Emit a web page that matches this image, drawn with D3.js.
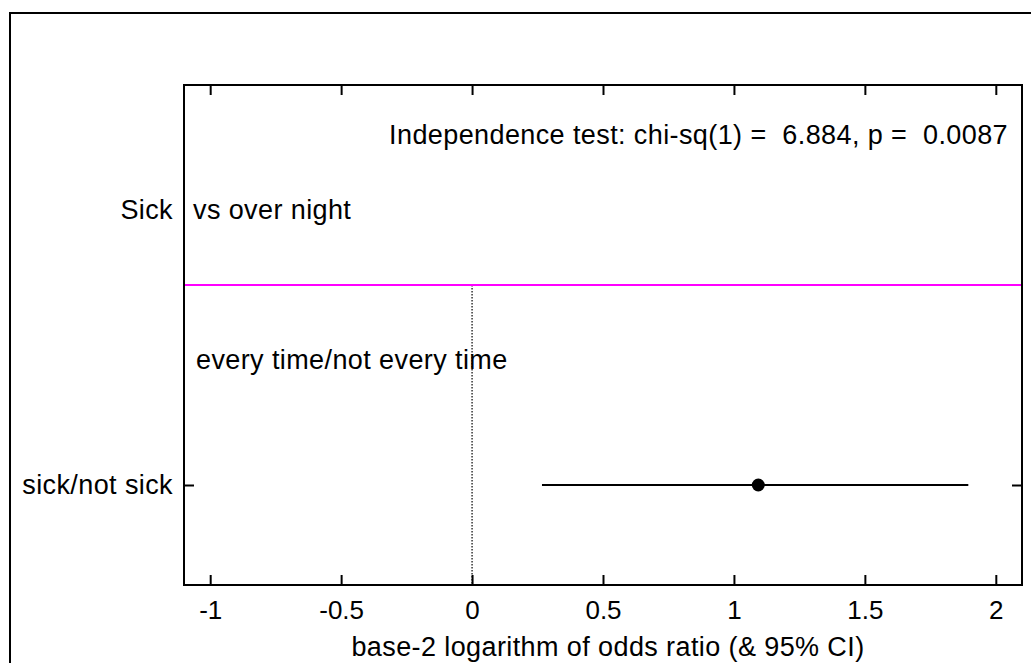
<!DOCTYPE html>
<html>
<head>
<meta charset="utf-8">
<script src="https://cdn.jsdelivr.net/npm/d3@7"></script>
<style>
  body { margin: 0; background: #fff; }
  svg text { font-family: "Liberation Sans", Arial, sans-serif; white-space: pre; }
</style>
</head>
<body>
<svg width="1031" height="663"></svg>
<script>
// data
var xTicks = [-1, -0.5, 0, 0.5, 1, 1.5, 2];
var rowLabels = ["sick/not sick"];
var rowPos = [0];
var estimates = [1.093];
var lower = [0.267];
var upper = [1.895];
var groupTitle = "Sick";
var groupSub = "vs over night";
var subLabel = "every time/not every time";
var testText = "Independence test: chi-sq(1) =  6.884, p =  0.0087";
var xTitle = "base-2 logarithm of odds ratio (& 95% CI)";

var svg = d3.select("svg"),
    margin = {top: 85, right: 9, bottom: 78, left: 184},
    width = +svg.attr("width") - margin.left - margin.right,
    height = +svg.attr("height") - margin.top - margin.bottom,
    g = svg.append("g").attr("transform", "translate(" + margin.left + "," + margin.top + ")");

// outer frame (runs off the right and bottom edge)
svg.append("rect")
    .attr("x", 10).attr("y", 13)
    .attr("width", 1060).attr("height", 700)
    .attr("fill", "none").attr("stroke", "#000").attr("stroke-width", 2);

var x = d3.scaleLinear().domain([-1.1, 2.1]).range([0, width]);
var y = d3.scaleLinear().domain([-0.8, 3.2]).range([height, 0]);

var fs = 27, ls = 0.4;

// dotted line at zero, below the group separator
g.append("line")
    .attr("x1", x(0)).attr("x2", x(0))
    .attr("y1", y(1.6)).attr("y2", height)
    .attr("stroke", "#000").attr("stroke-width", 1.2)
    .attr("stroke-dasharray", "1.5,1.5");

// group separator
g.append("line")
    .attr("x1", 0).attr("x2", width)
    .attr("y1", y(1.6)).attr("y2", y(1.6))
    .attr("stroke", "#ff00ff").attr("stroke-width", 2);

// axes, ticks inward
g.append("g")
    .attr("transform", "translate(0," + height + ")")
    .call(d3.axisBottom(x).tickValues(xTicks).tickFormat(function(d) { return String(d); })
      .tickSizeInner(-10).tickSizeOuter(0).tickPadding(16))
    .call(function(a) {
      a.select(".domain").remove();
      a.selectAll("line").attr("stroke-width", 2);
      a.selectAll("text").attr("font-size", 26).attr("font-family", "Liberation Sans, Arial, sans-serif").attr("fill", "#000");
    });

g.append("g")
    .call(d3.axisTop(x).tickValues(xTicks).tickFormat("")
      .tickSizeInner(-10).tickSizeOuter(0))
    .call(function(a) {
      a.select(".domain").remove();
      a.selectAll("line").attr("stroke-width", 2);
    });

g.append("g")
    .call(d3.axisLeft(y).tickValues(rowPos).tickFormat(function(d, i) { return rowLabels[i]; })
      .tickSizeInner(-10).tickSizeOuter(0).tickPadding(11))
    .call(function(a) {
      a.select(".domain").remove();
      a.selectAll("line").attr("stroke-width", 2);
      a.selectAll("text").attr("font-size", fs).attr("letter-spacing", ls)
        .attr("font-family", "Liberation Sans, Arial, sans-serif").attr("fill", "#000");
    });

g.append("g")
    .attr("transform", "translate(" + width + ",0)")
    .call(d3.axisRight(y).tickValues(rowPos).tickFormat("")
      .tickSizeInner(-10).tickSizeOuter(0))
    .call(function(a) {
      a.select(".domain").remove();
      a.selectAll("line").attr("stroke-width", 2);
    });

// plot frame
g.append("rect")
    .attr("width", width).attr("height", height)
    .attr("fill", "none").attr("stroke", "#000").attr("stroke-width", 2);

// confidence intervals and estimates
g.selectAll(".ci")
    .data(rowPos)
  .enter().append("line")
    .attr("class", "ci")
    .attr("x1", function(d, i) { return x(lower[i]); })
    .attr("x2", function(d, i) { return x(upper[i]); })
    .attr("y1", function(d) { return y(d); })
    .attr("y2", function(d) { return y(d); })
    .attr("stroke", "#000").attr("stroke-width", 2);

g.selectAll(".est")
    .data(rowPos)
  .enter().append("circle")
    .attr("class", "est")
    .attr("cx", function(d, i) { return x(estimates[i]); })
    .attr("cy", function(d) { return y(d); })
    .attr("r", 6.5)
    .attr("fill", "#000");

// texts
g.append("text")
    .attr("x", width - 14).attr("y", y(2.8))
    .attr("dy", "0.35em")
    .attr("text-anchor", "end")
    .attr("font-size", fs).attr("letter-spacing", ls)
    .text(testText);

g.append("text")
    .attr("x", -11).attr("y", y(2.2))
    .attr("dy", "0.35em")
    .attr("text-anchor", "end")
    .attr("font-size", fs).attr("letter-spacing", ls)
    .text(groupTitle);

g.append("text")
    .attr("x", 9).attr("y", y(2.2))
    .attr("dy", "0.35em")
    .attr("font-size", fs).attr("letter-spacing", ls)
    .text(groupSub);

g.append("text")
    .attr("x", 12).attr("y", y(1))
    .attr("dy", "0.35em")
    .attr("font-size", fs).attr("letter-spacing", ls)
    .text(subLabel);

svg.append("text")
    .attr("x", margin.left + width / 2 + 5)
    .attr("y", 656)
    .attr("text-anchor", "middle")
    .attr("font-size", fs).attr("letter-spacing", ls)
    .text(xTitle);
</script>
</body>
</html>
